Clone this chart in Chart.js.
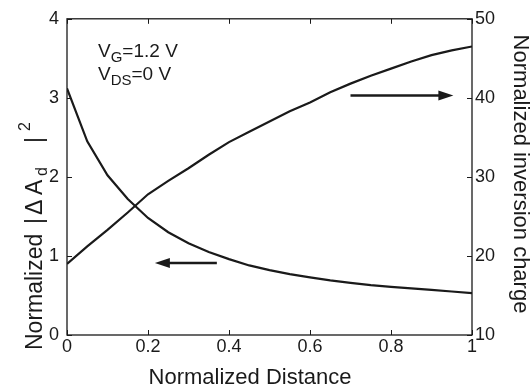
<!DOCTYPE html>
<html>
<head>
<meta charset="utf-8">
<script src="https://cdn.jsdelivr.net/npm/chart.js@4.4.0/dist/chart.umd.min.js"></script>
<style>
  html, body { margin: 0; padding: 0; background: #fff; }
  #wrap { width: 532px; height: 386px; }
</style>
</head>
<body>
<div id="wrap"><canvas id="c" width="532" height="386"></canvas></div>
<script>
// normalized distance along the channel
var distance = [0, 0.05, 0.1, 0.15, 0.2, 0.25, 0.3, 0.35, 0.4, 0.45, 0.5,
                0.55, 0.6, 0.65, 0.7, 0.75, 0.8, 0.85, 0.9, 0.95, 1];
// left axis: normalized |dA_d|^2
var ampSquared = [3.12, 2.45, 2.02, 1.72, 1.48, 1.30, 1.16, 1.05, 0.96, 0.88, 0.82,
                  0.77, 0.73, 0.69, 0.66, 0.63, 0.61, 0.59, 0.57, 0.55, 0.53];
// right axis: normalized inversion charge
var invCharge = [19.0, 21.2, 23.3, 25.5, 27.8, 29.5, 31.1, 32.8, 34.4, 35.7, 37.0,
                 38.3, 39.4, 40.7, 41.8, 42.8, 43.7, 44.6, 45.4, 46.0, 46.5];

var xTicks = [0, 0.2, 0.4, 0.6, 0.8, 1];
var yLeftTicks = [0, 1, 2, 3, 4];
var yRightTicks = [10, 20, 30, 40, 50];

// arrows: [x from, x to, y] in data units
var arrowLeft = [0.37, 0.217, 0.91];
var arrowRight = [0.70, 0.954, 40.3];

var ink = '#1a1a1a';
var font = '"Liberation Sans", Arial, sans-serif';

function pts(ys) {
  return distance.map(function (d, i) { return { x: d, y: ys[i] }; });
}

function arrow(ctx, x0, x1, y) {
  var dir = x1 > x0 ? 1 : -1;
  var head = 15;
  ctx.beginPath();
  ctx.moveTo(x0, y);
  ctx.lineTo(x1 - dir * head + dir * 2, y);
  ctx.lineWidth = 2.6;
  ctx.stroke();
  ctx.beginPath();
  ctx.moveTo(x1, y);
  ctx.lineTo(x1 - dir * head, y - 5);
  ctx.lineTo(x1 - dir * head, y + 5);
  ctx.closePath();
  ctx.fill();
}

var decor = {
  id: 'decor',
  afterDatasetsDraw: function (chart) {
    var ctx = chart.ctx;
    var a = chart.chartArea;
    var sx = chart.scales.x, yl = chart.scales.y, yr = chart.scales.y1;
    ctx.save();
    ctx.strokeStyle = ink;
    ctx.fillStyle = ink;

    // box
    ctx.lineWidth = 1.3;
    ctx.strokeRect(a.left, a.top, a.right - a.left, a.bottom - a.top);

    // inward tick marks
    ctx.lineWidth = 1;
    ctx.beginPath();
    xTicks.forEach(function (v) {
      var px = Math.round(sx.getPixelForValue(v)) + 0.5;
      ctx.moveTo(px, a.bottom); ctx.lineTo(px, a.bottom - 5);
      ctx.moveTo(px, a.top); ctx.lineTo(px, a.top + 5);
    });
    yLeftTicks.forEach(function (v) {
      var py = Math.round(yl.getPixelForValue(v)) + 0.5;
      ctx.moveTo(a.left, py); ctx.lineTo(a.left + 5, py);
    });
    yRightTicks.forEach(function (v) {
      var py = Math.round(yr.getPixelForValue(v)) + 0.5;
      ctx.moveTo(a.right, py); ctx.lineTo(a.right - 5, py);
    });
    ctx.stroke();

    // arrows
    arrow(ctx, sx.getPixelForValue(arrowLeft[0]), sx.getPixelForValue(arrowLeft[1]),
          yl.getPixelForValue(arrowLeft[2]));
    arrow(ctx, sx.getPixelForValue(arrowRight[0]), sx.getPixelForValue(arrowRight[1]),
          yr.getPixelForValue(arrowRight[2]));

    // bias annotation
    ctx.textBaseline = 'alphabetic';
    ctx.textAlign = 'left';
    var x = 98;
    ctx.font = '19px ' + font;
    ctx.fillText('V', x, 57);
    x += ctx.measureText('V').width;
    ctx.font = '15px ' + font;
    ctx.fillText('G', x, 62);
    x += ctx.measureText('G').width;
    ctx.font = '19px ' + font;
    ctx.fillText('=1.2 V', x, 57);

    x = 98;
    ctx.fillText('V', x, 80);
    x += ctx.measureText('V').width;
    ctx.font = '15px ' + font;
    ctx.fillText('DS', x, 85);
    x += ctx.measureText('DS').width;
    ctx.font = '19px ' + font;
    ctx.fillText('=0 V', x, 80);

    // x title
    ctx.font = '22px ' + font;
    ctx.textAlign = 'center';
    ctx.fillText('Normalized Distance', 250, 384);

    // right title
    ctx.save();
    ctx.translate(514, 174);
    ctx.rotate(Math.PI / 2);
    ctx.fillText('Normalized inversion charge', 0, 0);
    ctx.restore();

    // left title
    ctx.save();
    ctx.translate(42, 350);
    ctx.rotate(-Math.PI / 2);
    ctx.textAlign = 'left';
    ctx.font = '23px ' + font;
    ctx.fillText('Normalized', 0, 0);
    ctx.fillText('|', 126, 0);
    ctx.fillText('\u0394', 135, 0);
    ctx.fillText('A', 155, 0);
    ctx.font = '16px ' + font;
    ctx.fillText('d', 174, 5);
    ctx.font = '23px ' + font;
    ctx.fillText('|', 207, 0);
    ctx.font = '16px ' + font;
    ctx.fillText('2', 219, -12);
    ctx.restore();

    ctx.restore();
  }
};

var tickFont = { family: font, size: 18 };
var noGrid = { display: false, drawTicks: false, tickLength: 0 };

new Chart(document.getElementById('c').getContext('2d'), {
  type: 'line',
  data: {
    datasets: [{
      label: 'ampSquared',
      data: pts(ampSquared),
      yAxisID: 'y',
      borderColor: ink,
      borderWidth: 2.2,
      pointRadius: 0,
      fill: false
    }, {
      label: 'invCharge',
      data: pts(invCharge),
      yAxisID: 'y1',
      borderColor: ink,
      borderWidth: 2.2,
      pointRadius: 0,
      fill: false
    }]
  },
  options: {
    responsive: false,
    animation: false,
    layout: { padding: { top: 15, left: 0, right: 0, bottom: 0 } },
    plugins: { legend: { display: false }, tooltip: { enabled: false } },
    scales: {
      x: {
        type: 'linear',
        min: 0, max: 1,
        afterBuildTicks: function (s) { s.ticks = xTicks.map(function (v) { return { value: v }; }); },
        afterFit: function (s) { s.height = 51; },
        grid: noGrid,
        border: { display: false },
        ticks: {
          font: tickFont, color: ink, padding: 1, maxRotation: 0,
          callback: function (v) { return String(v); }
        }
      },
      y: {
        position: 'left',
        min: 0, max: 4,
        afterBuildTicks: function (s) { s.ticks = yLeftTicks.map(function (v) { return { value: v }; }); },
        afterFit: function (s) { s.width = 67; },
        grid: noGrid,
        border: { display: false },
        ticks: { font: tickFont, color: ink, padding: 8 }
      },
      y1: {
        position: 'right',
        min: 10, max: 50,
        afterBuildTicks: function (s) { s.ticks = yRightTicks.map(function (v) { return { value: v }; }); },
        afterFit: function (s) { s.width = 60; },
        grid: noGrid,
        border: { display: false },
        ticks: { font: tickFont, color: ink, padding: 3 }
      }
    }
  },
  plugins: [decor]
});
</script>
</body>
</html>
